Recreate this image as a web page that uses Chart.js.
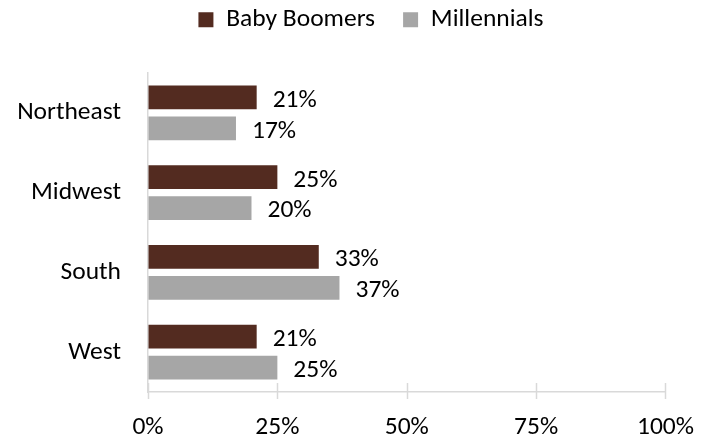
<!DOCTYPE html>
<html>
<head>
<meta charset="utf-8">
<script src="https://cdn.jsdelivr.net/npm/chart.js@4/dist/chart.umd.min.js"></script>
<style>
  html, body { margin: 0; padding: 0; background: #fff; }
  #wrap { width: 714px; height: 439px; }
</style>
</head>
<body>
<div id="wrap"><canvas id="c" width="714" height="439"></canvas></div>
<script>
const regions = ['Northeast', 'Midwest', 'South', 'West'];
const babyBoomers = [21, 25, 33, 21];
const millennials = [17, 20, 37, 25];
const xTicks = [0, 25, 50, 75, 100];

const FONT = 'Carlito, Calibri, Lato, sans-serif';
const FSIZE = 25.5;

// value labels at the end of every bar
const barLabels = {
    id: 'barLabels',
    afterDatasetsDraw(chart) {
        const ctx = chart.ctx;
        ctx.save();
        ctx.font = FSIZE + 'px ' + FONT;
        ctx.fillStyle = '#000';
        ctx.textBaseline = 'middle';
        ctx.textAlign = 'left';
        chart.data.datasets.forEach((ds, i) => {
            chart.getDatasetMeta(i).data.forEach((bar, j) => {
                ctx.fillText(ds.data[j] + '%', bar.x + 16, bar.y + 3);
            });
        });
        ctx.restore();
    }
};

// excel style tick marks that cross the axis line
const crossTicks = {
    id: 'crossTicks',
    afterDraw(chart) {
        const ctx = chart.ctx;
        const x = chart.scales.x;
        ctx.save();
        ctx.strokeStyle = '#d9d9d9';
        ctx.lineWidth = 1.5;
        xTicks.forEach(v => {
            const px = Math.round(x.getPixelForValue(v)) + 0.5;
            ctx.beginPath();
            ctx.moveTo(px, x.top - 9);
            ctx.lineTo(px, x.top + 7);
            ctx.stroke();
        });
        ctx.restore();
    }
};

// legend block is 73px tall, items sit near the top and a bit right of centre
const legendPlace = {
    id: 'legendPlace',
    beforeInit(chart) {
        const fit = chart.legend.fit;
        chart.legend.fit = function () {
            fit.bind(chart.legend)();
            this.height = 73;
        };
    },
    afterLayout(chart) {
        const lg = chart.legend;
        lg.top -= 21;
        lg.bottom -= 21;
        lg.left += 38;
        lg.right += 38;
    }
};

new Chart(document.getElementById('c'), {
    type: 'bar',
    data: {
        labels: regions,
        datasets: [
            {
                label: 'Baby Boomers',
                data: babyBoomers,
                backgroundColor: '#532B20',
                categoryPercentage: 0.775,
                barPercentage: 0.77
            },
            {
                label: 'Millennials',
                data: millennials,
                backgroundColor: '#A6A6A6',
                categoryPercentage: 0.775,
                barPercentage: 0.77
            }
        ]
    },
    options: {
        indexAxis: 'y',
        responsive: false,
        animation: false,
        layout: { padding: { top: 0, right: 48, left: 0, bottom: 0 } },
        plugins: {
            legend: {
                position: 'top',
                labels: {
                    font: { family: FONT, size: FSIZE },
                    color: '#000',
                    boxWidth: 15,
                    boxHeight: 15,
                    padding: 28
                }
            },
            tooltip: { enabled: false }
        },
        scales: {
            x: {
                min: 0,
                max: 100,
                afterBuildTicks(scale) {
                    scale.ticks = xTicks.map(v => ({ value: v }));
                },
                afterFit(scale) { scale.height = 47; },
                grid: { display: true, drawOnChartArea: false, drawTicks: false },
                border: { color: '#d9d9d9', width: 1.5 },
                ticks: {
                    padding: 20,
                    color: '#000',
                    font: { family: FONT, size: FSIZE },
                    callback: v => v + '%'
                }
            },
            y: {
                afterFit(scale) { scale.width = 148; },
                grid: { display: false },
                border: { color: '#d9d9d9', width: 1.5 },
                ticks: {
                    padding: 19,
                    color: '#000',
                    font: { family: FONT, size: FSIZE }
                }
            }
        }
    },
    plugins: [barLabels, crossTicks, legendPlace]
});
</script>
</body>
</html>
